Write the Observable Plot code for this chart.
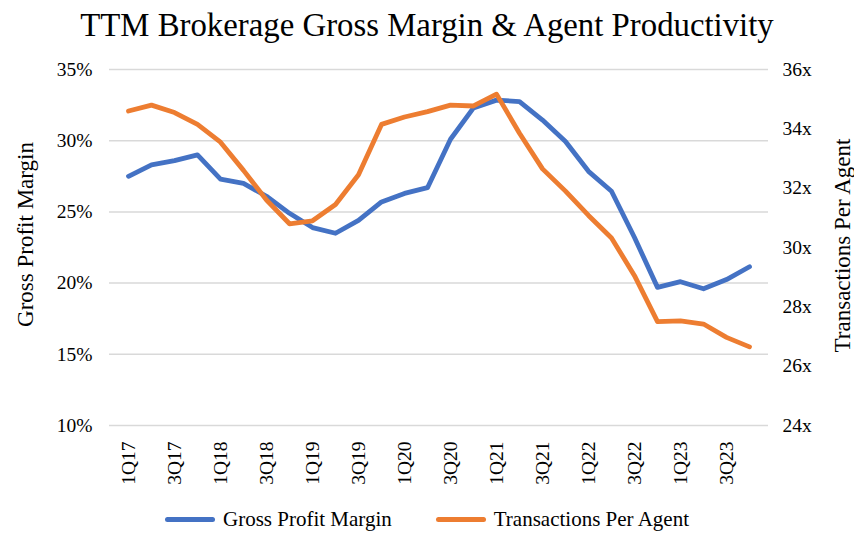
<!DOCTYPE html>
<html>
<head>
<meta charset="utf-8">
<script src="https://cdn.jsdelivr.net/npm/d3@7"></script>
<script src="https://cdn.jsdelivr.net/npm/@observablehq/plot@0.6"></script>
<style>
  html, body { margin: 0; padding: 0; background: #fff; }
  body { width: 854px; height: 539px; overflow: hidden; font-family: "Liberation Serif", "Times New Roman", serif; color: #000; }
  #title { height: 50px; line-height: 50px; text-align: center; font-size: 32.8px; white-space: nowrap; }
  #chart { height: 450px; }
  #chart svg, #chart svg text { font-family: "Liberation Serif", "Times New Roman", serif !important; }
  #legend { height: 39px; display: flex; justify-content: center; align-items: center; font-size: 21px; }
  .item { display: flex; align-items: center; margin: 0 22px; }
  .sw { width: 50px; height: 5px; border-radius: 3px; margin-right: 8px; }
</style>
</head>
<body>
<div id="title">TTM Brokerage Gross Margin &amp; Agent Productivity</div>
<div id="chart"></div>
<div id="legend"></div>
<script>
const quarters = [
  "1Q17","2Q17","3Q17","4Q17","1Q18","2Q18","3Q18","4Q18",
  "1Q19","2Q19","3Q19","4Q19","1Q20","2Q20","3Q20","4Q20",
  "1Q21","2Q21","3Q21","4Q21","1Q22","2Q22","3Q22","4Q22",
  "1Q23","2Q23","3Q23","4Q23"
];
const grossMargin = [
  27.5, 28.3, 28.6, 29.0, 27.3, 27.0, 26.1, 24.9,
  23.9, 23.5, 24.4, 25.7, 26.3, 26.7, 30.1, 32.3,
  32.85, 32.75, 31.45, 29.95, 27.85, 26.45, 23.2, 19.7,
  20.1, 19.6, 20.25, 21.15
];
const transactionsPerAgent = [
  34.6, 34.8, 34.55, 34.15, 33.55, 32.6, 31.6, 30.8,
  30.9, 31.45, 32.45, 34.15, 34.4, 34.58, 34.8, 34.77,
  35.17, 33.85, 32.65, 31.9, 31.08, 30.32, 29.05, 27.5,
  27.53, 27.42, 26.97, 26.65
];
const leftTicks = [10, 15, 20, 25, 30, 35];
const rightTicks = [24, 26, 28, 30, 32, 34, 36];
const xTickLabels = quarters.filter((q, i) => i % 2 === 0);
const seriesNames = ["Gross Profit Margin", "Transactions Per Agent"];
const seriesColors = ["#4472C4", "#ED7D31"];

// map right-axis values (24x..36x) onto the left scale (10%..35%)
const toLeft = v => 10 + (v - 24) * 25 / 12;
const fromLeft = y => 24 + (y - 10) * 12 / 25;

const gm = quarters.map((q, i) => ({q, v: grossMargin[i]}));
const tpa = quarters.map((q, i) => ({q, v: toLeft(transactionsPerAgent[i])}));

const font = '"Liberation Serif", "Times New Roman", serif';

const plot = Plot.plot({
  width: 854,
  height: 450,
  marginLeft: 109,
  marginRight: 86,
  marginTop: 19,
  marginBottom: 75,
  style: { fontFamily: font, fontSize: "19.5px", color: "#000", background: "#fff" },
  x: { type: "point", domain: quarters, padding: 0.5 },
  y: { domain: [10, 35] },
  marks: [
    Plot.gridY(leftTicks, { stroke: "#d9d9d9", strokeOpacity: 1, strokeWidth: 1.5 }),
    Plot.axisY(leftTicks, { anchor: "left", tickSize: 0, tickPadding: 17, tickFormat: d => d + "%", label: null, fontFamily: font }),
    Plot.axisY(rightTicks.map(toLeft), { anchor: "right", tickSize: 0, tickPadding: 14, tickFormat: d => Math.round(fromLeft(d)) + "x", label: null, fontFamily: font }),
    Plot.axisX(xTickLabels, { anchor: "bottom", tickSize: 0, tickPadding: 16, tickRotate: -90, label: null, fontFamily: font }),
    Plot.line(gm, { x: "q", y: "v", stroke: seriesColors[0], strokeWidth: 4.8, strokeLinejoin: "round", strokeLinecap: "round" }),
    Plot.line(tpa, { x: "q", y: "v", stroke: seriesColors[1], strokeWidth: 4.8, strokeLinejoin: "round", strokeLinecap: "round" }),
    Plot.text(["Gross Profit Margin"], { frameAnchor: "left", textAnchor: "middle", text: d => d, rotate: -90, dx: -84, dy: -13, fontSize: 23, fill: "#000", fontFamily: font }),
    Plot.text(["Transactions Per Agent"], { frameAnchor: "right", textAnchor: "middle", text: d => d, rotate: -90, dx: 74, dy: -2, fontSize: 23, fill: "#000", fontFamily: font })
  ]
});
document.getElementById("chart").appendChild(plot);

const legend = document.getElementById("legend");
seriesNames.forEach((name, i) => {
  const item = document.createElement("div");
  item.className = "item";
  const sw = document.createElement("div");
  sw.className = "sw";
  sw.style.background = seriesColors[i];
  const label = document.createElement("span");
  label.textContent = name;
  item.appendChild(sw);
  item.appendChild(label);
  legend.appendChild(item);
});
</script>
</body>
</html>
